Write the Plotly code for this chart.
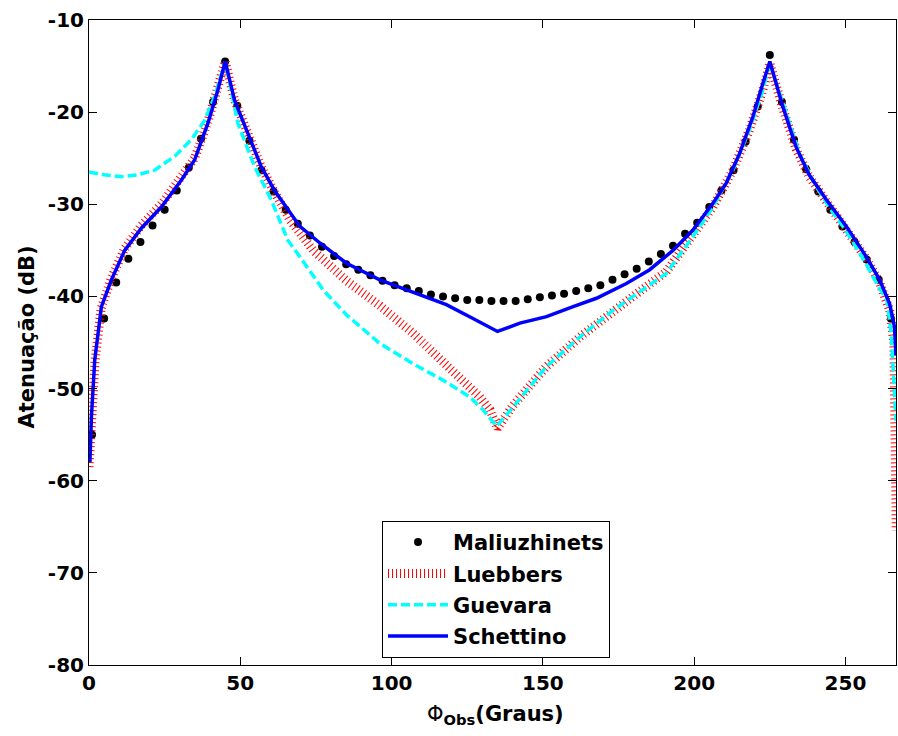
import plotly.graph_objects as go

# Maliuzhinets (reference points)
mal_x = [1, 5, 9, 13, 17, 21, 25, 29, 33, 37, 41, 45, 49, 53, 57, 61, 65, 69, 73, 77,
         81, 85, 89, 93, 97, 101, 105, 109, 113, 117, 121, 125, 129, 133, 137, 141, 145,
         149, 153, 157, 161, 165, 169, 173, 177, 181, 185, 189, 193, 197, 201, 205, 209,
         213, 217, 221, 225, 229, 233, 237, 241, 245, 249, 253, 257, 261, 265]
mal_y = [-55.0, -42.4, -38.5, -35.9, -34.1, -32.3, -30.6, -28.5, -26.0, -22.9, -18.9, -14.5,
         -19.3, -23.1, -26.3, -28.6, -30.6, -32.1, -33.4, -34.6, -35.6, -36.5, -37.1, -37.7,
         -38.3, -38.8, -39.1, -39.4, -39.8, -40.0, -40.2, -40.4, -40.4, -40.5, -40.5, -40.5,
         -40.3, -40.1, -39.9, -39.7, -39.4, -39.1, -38.8, -38.2, -37.6, -37.0, -36.2, -35.4,
         -34.5, -33.2, -32.0, -30.3, -28.5, -26.3, -23.2, -19.4, -13.8, -18.9, -23.0, -26.2,
         -28.6, -30.6, -32.4, -34.1, -36.0, -38.2, -42.4]

# Luebbers
lue_x = [0, 0.5, 1, 2, 4, 7.4, 11.8, 17.3, 23.9, 30.5, 34.9, 39.3, 42.6, 45, 48.1, 52.5,
         56.9, 61.3, 66.4, 74.1, 85.1, 96.1, 107.1, 116, 123.7, 129.1, 132.5, 135, 140.2,
         151.2, 162.2, 173.2, 179.8, 190.8, 199.6, 206.2, 212.8, 218.3, 222.7, 225, 229.3,
         233.7, 238, 243.7, 250.3, 256.9, 261.3, 264.6, 266.0, 266.5, 266.8]
lue_y = [-58.5, -55.0, -52.0, -47.0, -41.3, -38.0, -34.8, -32.3, -30.0, -27.2, -25.0, -21.0,
         -17.5, -14.5, -18.7, -22.3, -25.9, -28.7, -31.7, -35.0, -38.3, -41.0, -44.0, -46.8,
         -49.1, -50.9, -52.3, -54.3, -51.8, -47.6, -44.4, -41.5, -40.0, -37.3, -33.5, -30.3,
         -26.3, -21.9, -17.6, -14.7, -19.6, -24.0, -27.0, -29.7, -32.6, -35.9, -38.5, -41.5,
         -45.0, -52.0, -65.4]

# Guevara
gue_x = [0, 5, 10.7, 16, 21.7, 28.3, 33.8, 38.2, 41.5, 45, 49.2, 54.7, 60.2, 65.7, 69.7,
         77.4, 85.1, 96.1, 107.1, 118.1, 125.8, 130.2, 134.7, 140.2, 151.2, 162.2, 173.2,
         179.8, 190.8, 199.6, 206.2, 212.8, 218.3, 222.7, 225, 230.4, 234.8, 240, 245, 250,
         256, 261, 263.7, 265.1, 266.2, 266.7]
gue_y = [-26.5, -26.8, -27.0, -26.8, -26.3, -24.8, -23.0, -20.9, -18.3, -14.5, -21.2, -25.9,
         -29.5, -33.9, -35.7, -39.3, -42.0, -45.1, -47.3, -49.3, -50.9, -52.3, -54.1, -52.0,
         -47.6, -44.4, -41.5, -40.0, -37.5, -33.5, -30.3, -26.3, -21.9, -17.6, -14.7, -20.1,
         -24.5, -27.9, -30.5, -32.8, -36.0, -39.0, -40.4, -44.0, -49.8, -53.5]

# Schettino
sch_x = [0.3, 0.8, 1.9, 4.1, 7.4, 11.8, 17.3, 23.9, 30.5, 34.9, 39.3, 42.6, 45, 48.1, 52.5,
         56.9, 61.3, 65.7, 69.7, 76.3, 85.1, 96.1, 107.1, 118.1, 126.9, 135, 142.4, 151.2,
         160, 167.7, 177.6, 185.3, 193, 199.6, 206.2, 210.6, 215, 219.4, 222.7, 225, 229.3,
         233.7, 238, 243.7, 250.3, 256.9, 261.3, 264.6, 266.2, 266.7]
sch_y = [-58.0, -53.1, -46.9, -41.1, -38.2, -35.0, -32.6, -30.3, -27.4, -25.2, -21.2, -17.6,
         -14.5, -18.7, -22.3, -25.9, -28.5, -30.6, -32.4, -34.2, -36.4, -38.2, -39.5, -40.9,
         -42.4, -43.8, -42.9, -42.2, -41.1, -40.2, -38.6, -37.1, -35.0, -32.8, -29.9, -27.7,
         -24.5, -20.5, -16.9, -14.5, -19.4, -23.8, -26.8, -29.5, -32.4, -35.7, -38.2, -40.8,
         -43.3, -46.4]

x_ticks = [0, 50, 100, 150, 200, 250]
x_ticktext = ["0", "50", "100", "150", "200", "250"]
y_ticks = [-80, -70, -60, -50, -40, -30, -20, -10]
y_ticktext = ["-80", "-70", "-60", "-50", "-40", "-30", "-20", "-10"]

FONT = "DejaVu Sans"

fig = go.Figure()
fig.add_trace(go.Scatter(x=mal_x, y=mal_y, mode="markers", name="Maliuzhinets",
                         legendgroup="a",
                         marker=dict(color="black", size=8)))
fig.add_trace(go.Scatter(x=lue_x, y=lue_y, mode="lines", name="Luebbers",
                         legendgroup="b",
                         line=dict(color="#FF0000", width=9, dash="1px,3px")))
fig.add_trace(go.Scatter(x=gue_x, y=gue_y, mode="lines", name="Guevara",
                         legendgroup="c",
                         line=dict(color="#00FFFF", width=3.5, dash="9px,4px")))
fig.add_trace(go.Scatter(x=sch_x, y=sch_y, mode="lines", name="Schettino",
                         legendgroup="d",
                         line=dict(color="#0000FF", width=3.5)))

axis_common = dict(showline=True, linecolor="black", linewidth=1, mirror="ticks",
                   ticks="inside", ticklen=8, tickcolor="black", showgrid=False,
                   zeroline=False,
                   tickfont=dict(family=FONT, size=20, color="black", weight="bold"))

fig.update_xaxes(range=[0, 266.7], tickvals=x_ticks, ticktext=x_ticktext, **axis_common)
fig.update_yaxes(range=[-80, -10], tickvals=y_ticks, ticktext=y_ticktext, **axis_common)

fig.add_annotation(text="Φ<sub><b>Obs</b></sub><b>(Graus)</b>", xref="paper", yref="paper",
                   x=0.5037, y=-0.0775, xanchor="center", yanchor="middle", showarrow=False,
                   font=dict(family=FONT, size=21, color="black"))
fig.add_annotation(text="<b>Atenuação (dB)</b>", xref="paper", yref="paper",
                   x=-0.0768, y=0.5078, xanchor="center", yanchor="middle", showarrow=False,
                   textangle=-90, font=dict(family=FONT, size=21, color="black"))

fig.update_layout(
    width=898, height=736,
    margin=dict(l=89, r=2, t=20, b=71),
    paper_bgcolor="white", plot_bgcolor="white",
    showlegend=True,
    legend=dict(x=0.3631, y=0.2233, xanchor="left", yanchor="top",
                bgcolor="white", bordercolor="black", borderwidth=1,
                font=dict(family=FONT, size=21, color="black", weight="bold"),
                traceorder="grouped", tracegroupgap=1, itemwidth=60),
)

# remove the default 8px page margin so the 898x736 figure fills the window exactly
fig.write_html("out.html",
               config={"displayModeBar": False},
               post_script="document.body.style.margin='0';document.body.style.overflow='hidden';")
